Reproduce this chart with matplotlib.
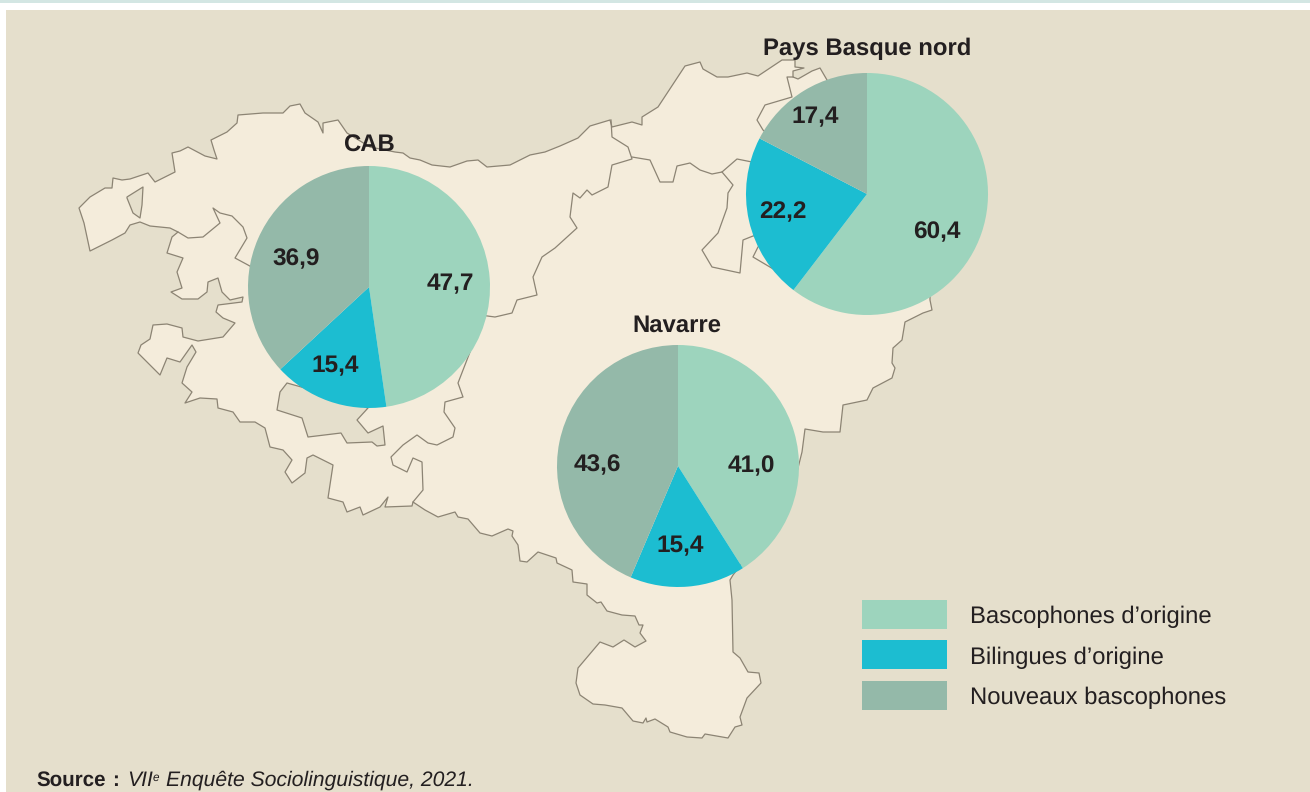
import matplotlib
matplotlib.use('Agg')
import matplotlib.pyplot as plt
from matplotlib.patches import Polygon, Rectangle

plt.rcParams['font.family'] = ['Liberation Sans', 'DejaVu Sans']
plt.rcParams['text.hinting'] = 'none'
plt.rcParams['text.kerning_factor'] = 6

W, H = 1310, 792

# data
regions = ['CAB', 'Pays Basque nord', 'Navarre']
categories = ['Bascophones d\u2019origine', 'Bilingues d\u2019origine', 'Nouveaux bascophones']
cab_values = [47.7, 15.4, 36.9]
pbn_values = [60.4, 22.2, 17.4]
nav_values = [41.0, 15.4, 43.6]
all_values = [cab_values, pbn_values, nav_values]

colors = ['#9dd4bd', '#1cbdd1', '#94b9a9']
panel_color = '#e5dfcc'
land_color = '#f4ecdb'
border_color = '#8c8474'
text_color = '#231f20'

# layout in image pixels
centers = [(369, 287), (867, 194), (678, 466)]
radius = 121
title_pos = [(369, 146), (867, 49), (677, 326)]
label_pos = [
    [(450, 284), (335, 366), (296, 259)],
    [(937, 232), (783, 212), (815, 117)],
    [(751, 466), (680, 546), (597, 465)],
]

# map outline, in image pixels
outline = [
    (79, 208), (90, 197), (105, 188), (112, 188), (113, 178), (122, 180), (130, 179), (148, 173), (155, 182),
    (175, 172), (172, 153), (180, 151), (188, 147), (205, 156), (217, 159), (214, 150), (211, 140), (227, 132),
    (237, 123), (238, 115), (263, 113), (283, 113), (290, 106), (300, 104), (305, 113), (318, 122), (323, 133),
    (323, 123), (338, 120), (347, 133), (370, 147), (395, 152), (403, 153), (410, 158), (420, 160), (432, 165),
    (450, 167), (467, 161), (478, 160), (487, 167), (510, 165), (530, 155), (545, 152), (560, 146), (578, 138),
    (590, 126), (610, 120), (612, 127), (632, 122), (642, 125), (642, 117), (658, 107), (685, 66), (700, 62),
    (703, 69), (717, 77), (728, 77), (747, 73), (758, 76), (782, 60), (795, 60), (795, 67), (804, 68),
    (793, 71), (793, 77), (798, 79), (812, 71), (820, 68), (827, 80), (860, 120), (930, 250), (930, 300),
    (932, 310), (923, 313), (905, 322), (902, 340), (893, 348), (892, 363), (895, 368), (892, 378), (873, 388),
    (867, 400), (843, 405), (840, 432), (823, 432), (805, 429), (802, 452), (790, 500), (733, 575), (730, 580),
    (732, 600), (733, 652), (740, 658), (748, 672), (759, 673), (761, 683), (747, 698), (740, 717), (742, 725),
    (735, 727), (728, 738), (705, 734), (702, 738), (687, 737), (670, 732), (668, 727), (655, 719), (647, 722),
    (646, 718), (643, 723), (633, 721), (622, 708), (605, 705), (593, 704), (580, 695), (576, 683), (578, 668),
    (600, 642), (613, 647), (624, 640), (635, 647), (646, 641), (640, 633), (643, 625), (639, 625), (635, 616),
    (622, 615), (607, 611), (601, 602), (597, 603), (587, 595), (587, 584), (573, 582), (572, 570), (557, 563),
    (556, 558), (538, 552), (527, 562), (520, 561), (518, 545), (512, 536), (513, 531), (508, 529), (492, 536),
    (480, 533), (468, 519), (458, 517), (455, 512), (438, 517), (425, 510), (413, 502), (412, 506), (385, 507),
    (388, 497), (380, 507), (363, 515), (360, 507), (347, 512), (343, 502), (328, 498), (333, 465), (313, 455),
    (307, 458), (305, 473), (292, 483), (285, 472), (292, 460), (283, 450), (270, 447), (265, 428), (255, 422),
    (240, 422), (233, 412), (218, 408), (217, 399), (200, 398), (185, 403), (192, 392), (182, 383), (187, 367),
    (196, 352), (192, 345), (180, 362), (167, 358), (160, 375), (138, 353), (141, 345), (150, 339), (153, 325),
    (167, 324), (182, 328), (183, 337), (198, 341), (223, 337), (235, 323), (223, 318), (216, 312), (218, 305),
    (242, 302), (243, 297), (230, 300), (222, 292), (218, 278), (208, 282), (207, 292), (198, 299), (182, 299),
    (171, 292), (182, 288), (177, 272), (183, 258), (167, 253), (172, 237), (178, 232), (170, 228), (150, 226),
    (140, 222), (130, 225), (125, 233), (112, 240), (90, 251), (84, 223),
]
holes = [
    [(127, 197), (143, 187), (142, 205), (140, 218), (133, 213), (127, 198)],
    [(287, 383), (330, 395), (368, 408), (357, 420), (368, 433), (383, 426), (385, 445), (377, 446), (372, 442),
     (347, 443), (341, 433), (308, 437), (302, 418), (277, 410), (280, 392)],
]
inner_lines = [
    [(178, 232), (188, 238), (203, 237), (220, 223), (213, 208), (220, 213), (232, 216), (243, 227), (247, 238),
     (235, 258), (248, 265), (260, 272)],
    [(470, 352), (458, 383), (463, 397), (445, 402), (444, 412), (455, 428), (453, 437), (437, 445), (428, 443),
     (417, 435), (403, 445), (391, 457), (393, 465), (407, 472), (413, 458), (422, 462), (423, 490), (413, 502)],
    [(480, 315), (495, 317), (512, 313), (517, 300), (537, 295), (533, 277), (542, 257), (555, 248), (577, 228),
     (570, 217), (573, 193), (580, 198), (587, 190), (592, 195), (608, 187), (612, 165), (632, 159), (628, 147),
     (612, 137), (611, 120)],
    [(632, 157), (650, 160), (660, 182), (673, 182), (677, 166), (690, 163), (700, 170), (712, 174), (722, 172),
     (737, 159), (752, 162), (770, 165)],
    [(722, 172), (733, 185), (728, 193), (727, 208), (718, 233), (702, 250), (712, 267), (740, 273), (743, 240),
     (753, 236), (770, 232)],
    [(770, 235), (758, 247), (753, 257), (780, 273)],
    [(780, 145), (763, 130), (757, 120), (765, 105), (792, 97), (787, 77), (793, 77)],
]


def flip(pts):
    return [(x, H - y) for x, y in pts]


fig = plt.figure(figsize=(W / 100, H / 100), dpi=100, facecolor='white')
ax = fig.add_axes([0, 0, 1, 1])

# page background
ax.add_patch(Rectangle((0, H - 3), W, 3, fc='#d3e6e3', ec='none'))
ax.add_patch(Rectangle((6, 0), W - 6, H - 10, fc=panel_color, ec='none'))

# map
ax.add_patch(Polygon(flip(outline), closed=True, fc=land_color, ec=border_color, lw=0.9, joinstyle='round'))
for hole in holes:
    ax.add_patch(Polygon(flip(hole), closed=True, fc=panel_color, ec=border_color, lw=0.9, joinstyle='round'))
for line in inner_lines:
    xs, ys = zip(*flip(line))
    ax.plot(xs, ys, color=border_color, lw=0.9)

# pies
for i, values in enumerate(all_values):
    cx, cy = centers[i]
    ax.pie(values, colors=colors, startangle=90, counterclock=False, radius=radius,
           center=(cx, H - cy), wedgeprops={'linewidth': 0, 'zorder': 3})
    ax.text(title_pos[i][0], H - title_pos[i][1], regions[i], ha='center', va='center',
            fontsize=17.2, fontweight='bold', color=text_color, zorder=4)
    for v, (lx, ly) in zip(values, label_pos[i]):
        ax.text(lx, H - ly, f'{v:.1f}'.replace('.', ','), ha='center', va='center',
                fontsize=17.6, fontweight='bold', color=text_color, zorder=4)

# legend
for name, col, y, base in zip(categories, colors, [600, 640, 681], [623, 664, 704]):
    ax.add_patch(Rectangle((862, H - y - 29), 85, 29, fc=col, ec='none'))
    ax.text(970, H - base, name, ha='left', va='baseline', fontsize=17.2, color=text_color)

# source
ax.text(36.5, H - 786, 'Source', fontsize=14.8, fontweight='bold', color=text_color)
ax.text(112, H - 786, ':', fontsize=14.8, fontweight='bold', color=text_color)
ax.text(127, H - 786, 'VII', fontsize=15.2, style='italic', color=text_color)
ax.text(152.5, H - 781, 'e', fontsize=8.5, style='italic', color=text_color)
ax.text(166, H - 786, 'Enqu\u00eate Sociolinguistique, 2021.', fontsize=15.2, style='italic', color=text_color)

ax.set_xlim(0, W)
ax.set_ylim(0, H)
ax.set_aspect('auto')
ax.axis('off')

fig.savefig('out.png', dpi=100, facecolor='white')
